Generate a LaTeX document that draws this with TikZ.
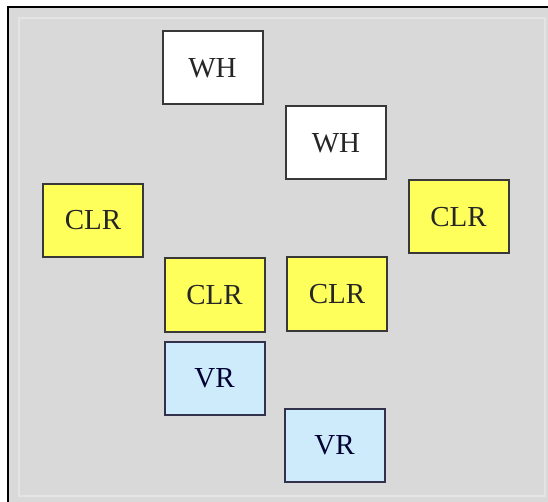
\documentclass[tikz,border=0pt]{standalone}
\usepackage{fontspec}
\setmainfont{Liberation Serif}
\usepackage{tikz}

\definecolor{panelgray}{HTML}{D9D9D9}
\definecolor{clryellow}{HTML}{FFFF5C}
\definecolor{vrblue}{HTML}{CDEBFB}
\definecolor{boxedge}{HTML}{383838}

\tikzset{
  unitbox/.style={draw=boxedge, line width=2pt, minimum width=100pt, minimum height=73pt,
    inner sep=0pt, font=\fontsize{29}{33}\selectfont, text=black!85},
  whbox/.style={unitbox, fill=white},
  clrbox/.style={unitbox, fill=clryellow},
  vrbox/.style={unitbox, fill=vrblue, draw=boxedge!90!blue, text=black!80!blue}
}

\begin{document}
\begin{tikzpicture}[x=1pt,y=-1pt]
    \useasboundingbox (0,0) rectangle (548,502);
    % panel
    \fill[panelgray] (8,7) rectangle (548,502);
    \draw[white!30!panelgray, line width=1.5pt] (19,18) rectangle (545,496);
    \draw[black, line width=2pt] (8,502) -- (8,7) -- (548,7);
%    units
    \node[whbox] (wh1) at (212.5,68) {WH};
    \node[whbox] (wh2) at (336,143) {WH};
    \node[clrbox] (clr1) at (93,220.5) {CLR};
    \node[clrbox] (clr2) at (458.5,217) {CLR};
    \node[clrbox] (clr3) at (214.5,295) {CLR};
    \node[clrbox] (clr4) at (337,294) {CLR};
    \node[vrbox] (vr1) at (214.5,378) {VR};
    \node[vrbox] (vr2) at (334.5,445.5) {VR};
\end{tikzpicture}
\end{document}
